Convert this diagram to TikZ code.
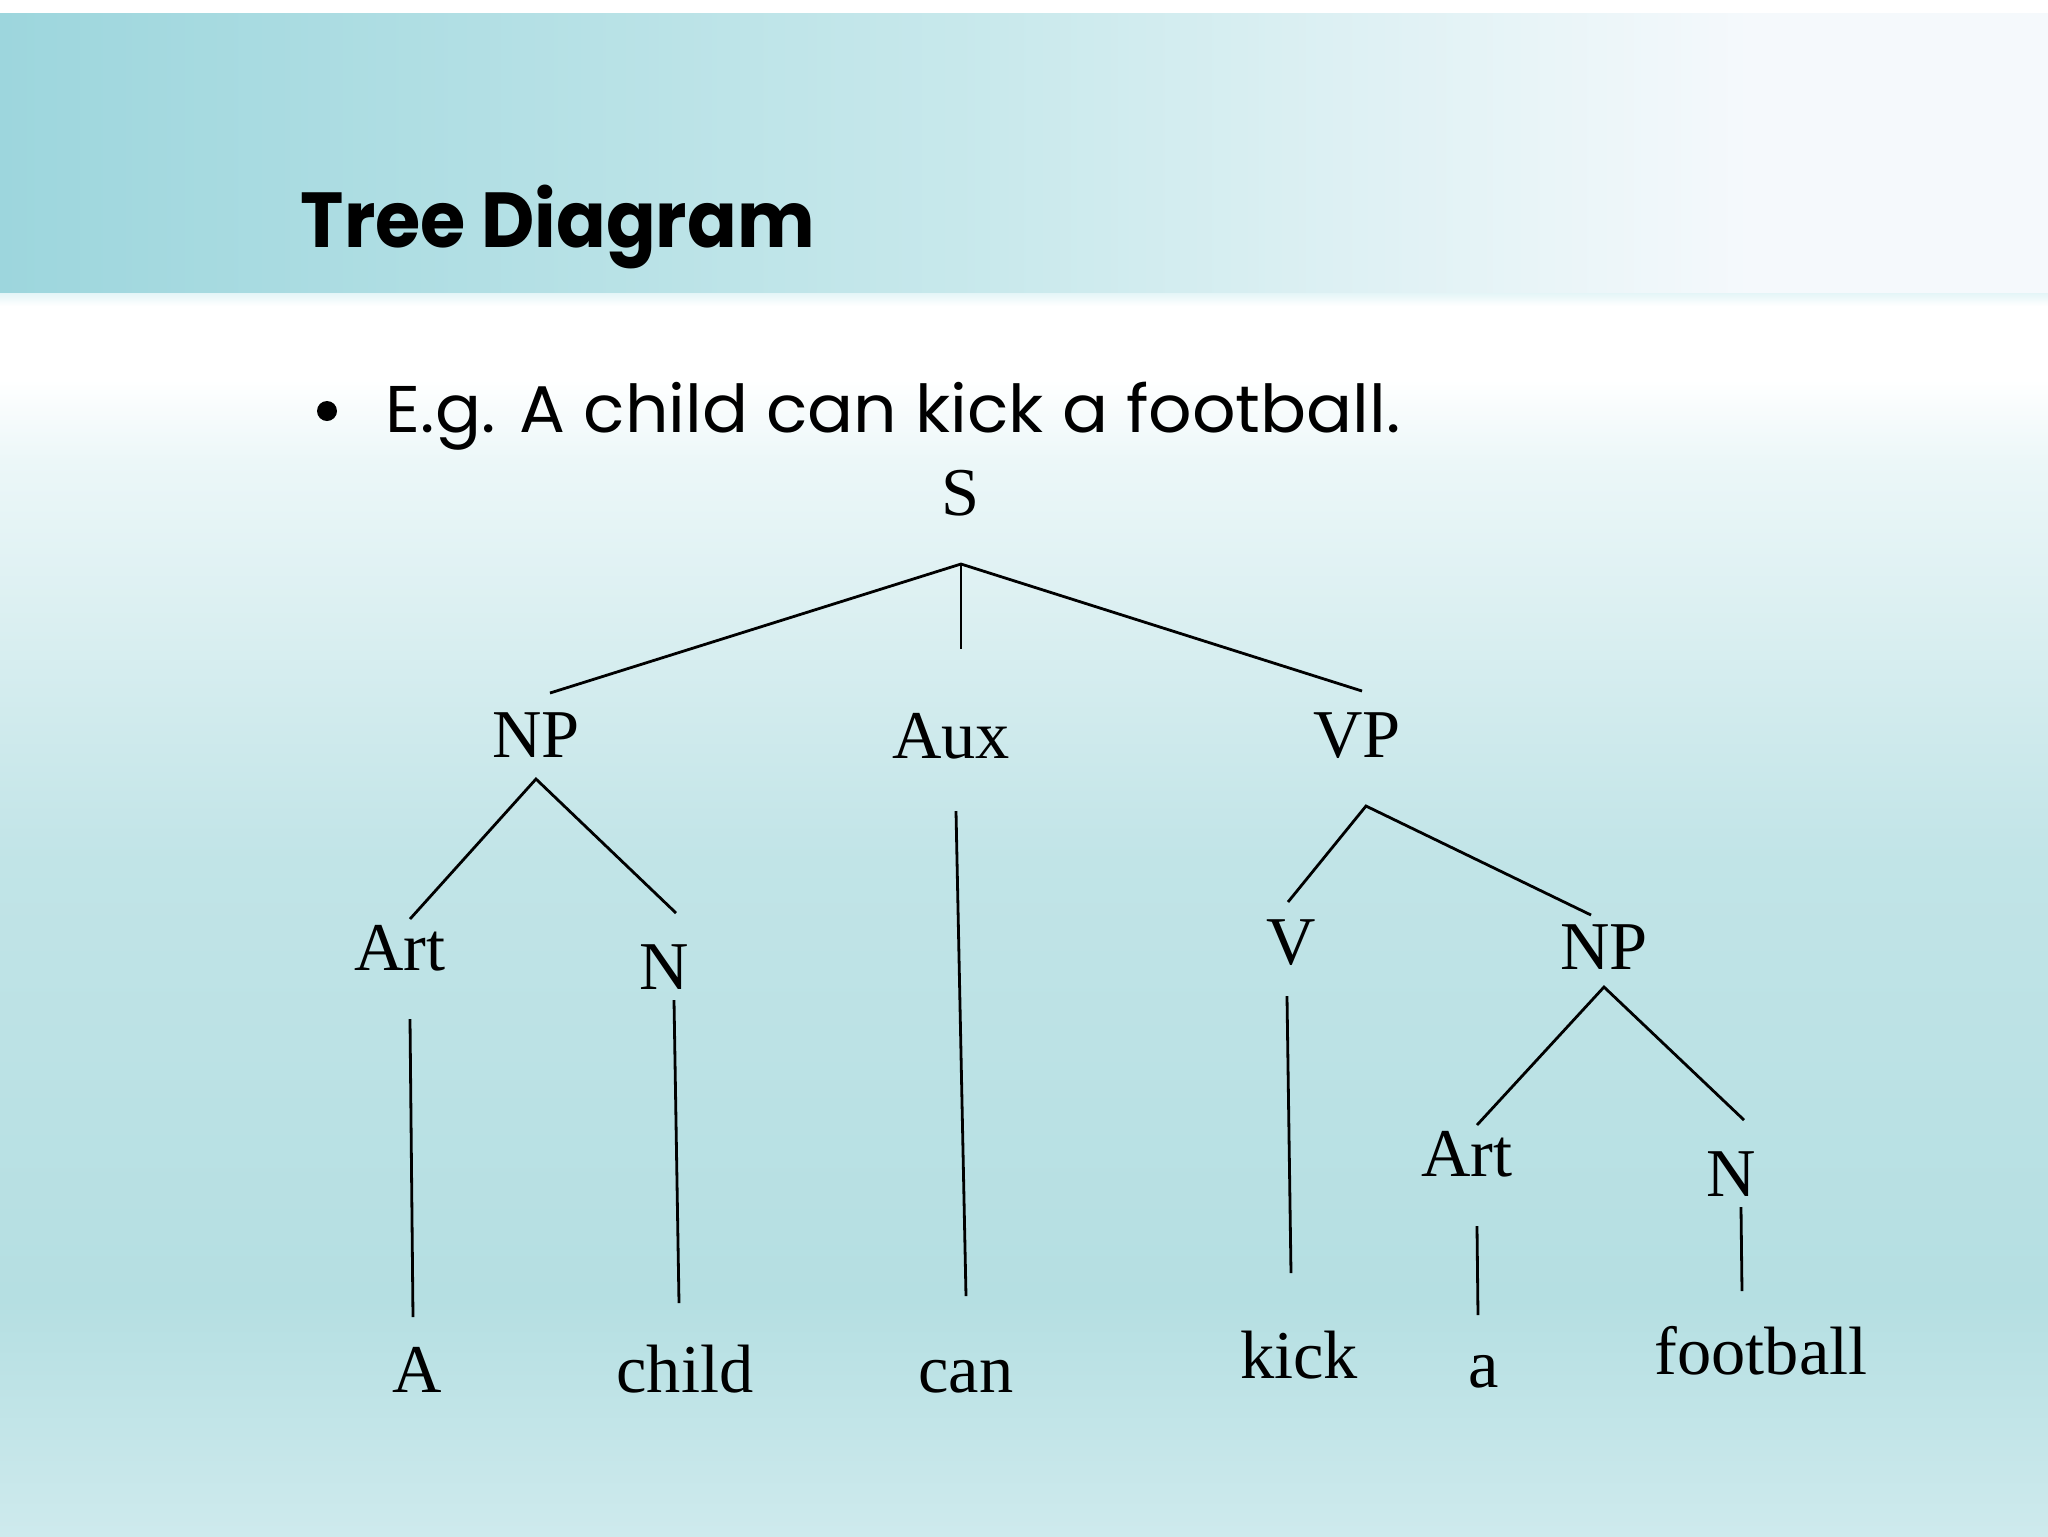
\documentclass[tikz,border=0pt]{standalone}
\usepackage{fontspec}
\setmainfont{Liberation Serif}
\newfontfamily\gothic{Poppins}
\definecolor{bgA}{RGB}{236,247,248}
\definecolor{bgB}{RGB}{193,228,231}
\definecolor{bgC}{RGB}{181,223,226}
\definecolor{bgD}{RGB}{206,234,237}
\definecolor{bandA}{RGB}{157,214,221}
\definecolor{bandB}{RGB}{201,233,236}
\definecolor{bandC}{RGB}{245,249,252}
\definecolor{stripA}{RGB}{228,245,247}
\begin{document}
\begin{tikzpicture}[x=0.25pt,y=-0.25pt,
  lbl/.style={anchor=base,inner sep=0pt,font=\fontsize{17.1}{20}\selectfont},
  edge/.style={line width=0.7pt,black}]
\useasboundingbox (0,0) rectangle (2048,1536);
% body background
\fill[white] (0,0) rectangle (2048,1536);
\shade[top color=white,bottom color=bgA] (0,379) rectangle (2048,460);
\shade[top color=bgA,bottom color=bgB] (0,459) rectangle (2048,860);
\shade[top color=bgB,bottom color=bgC] (0,859) rectangle (2048,1300);
\shade[top color=bgC,bottom color=bgD] (0,1299) rectangle (2048,1536);
% header band
\shade[left color=bandA,right color=bandB] (0,13) rectangle (1001,293);
\shade[left color=bandB,right color=bandC] (1000,13) rectangle (1751,293);
\fill[bandC] (1750,13) rectangle (2048,293);
\shade[top color=stripA,bottom color=white] (0,293) rectangle (2048,306);
% title and bullet
\node[anchor=base west,inner sep=0pt,font=\gothic\bfseries\fontsize{19.5}{23}\selectfont] (title) at (300,247) {\scalebox{0.94}[1]{Tree Diagram}};
\node[anchor=base west,inner sep=0pt,font=\gothic\fontsize{16.5}{20}\selectfont] (ex) at (385,432) {\scalebox{1.032}[1]{E.g. A child can kick a football.}};
\fill (327,411) circle (10);
% tree labels
\node[lbl] (S) at (961,515) {S};
\node[lbl] (NPa) at (536,757) {NP};
\node[lbl] (Aux) at (951,758) {Aux};
\node[lbl] (VP) at (1357,757) {VP};
\node[lbl] (Arta) at (400,970) {Art};
\node[lbl] (Na) at (664,989) {N};
\node[lbl] (V) at (1291,964) {V};
\node[lbl] (NPb) at (1604,969) {NP};
\node[lbl] (Artb) at (1467,1176) {Art};
\node[lbl] (Nb) at (1731,1196) {N};
\node[lbl] (wA) at (417,1392) {A};
\node[lbl] (wchild) at (685,1392) {child};
\node[lbl] (wcan) at (966,1392) {can};
\node[lbl] (wkick) at (1299,1378) {kick};
\node[lbl] (wa) at (1484,1387) {a};
\node[lbl] (wfootball) at (1761,1374) {football};
% line end points
\coordinate (s0) at (961,564);
\coordinate (s1) at (550,693);
\coordinate (s2) at (961,649);
\coordinate (s3) at (1362,691);
\coordinate (np0) at (536,779);
\coordinate (np1) at (410,919);
\coordinate (np2) at (676,913);
\coordinate (arta0) at (410,1019);
\coordinate (arta1) at (413,1317);
\coordinate (na0) at (674,1000);
\coordinate (na1) at (679,1303);
\coordinate (aux0) at (956,811);
\coordinate (aux1) at (966,1296);
\coordinate (vp0) at (1366,806);
\coordinate (vp1) at (1288,902);
\coordinate (vp2) at (1591,915);
\coordinate (v0) at (1287,996);
\coordinate (v1) at (1291,1273);
\coordinate (npb0) at (1604,987);
\coordinate (npb1) at (1477,1125);
\coordinate (npb2) at (1744,1120);
\coordinate (artb0) at (1477,1226);
\coordinate (artb1) at (1478,1315);
\coordinate (nb0) at (1741,1207);
\coordinate (nb1) at (1742,1291);
% connectors
\draw[edge] (s1) -- (s0) -- (s3);
\draw[edge] (s0) -- (s2);
\draw[edge] (np1) -- (np0) -- (np2);
\draw[edge] (arta0) -- (arta1);
\draw[edge] (na0) -- (na1);
\draw[edge] (aux0) -- (aux1);
\draw[edge] (vp1) -- (vp0) -- (vp2);
\draw[edge] (v0) -- (v1);
\draw[edge] (npb1) -- (npb0) -- (npb2);
\draw[edge] (artb0) -- (artb1);
\draw[edge] (nb0) -- (nb1);
\end{tikzpicture}
\end{document}
